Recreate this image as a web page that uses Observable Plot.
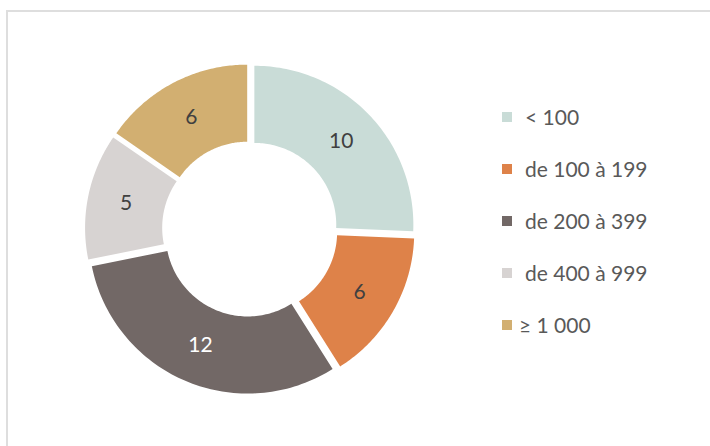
<!DOCTYPE html>
<html>
<head>
<meta charset="utf-8">
<script src="https://cdn.jsdelivr.net/npm/d3@7"></script>
<script src="https://cdn.jsdelivr.net/npm/@observablehq/plot@0.6"></script>
<style>
  html, body { margin: 0; padding: 0; background: #fff; }
  #wrap { position: relative; width: 710px; height: 446px; overflow: hidden; font-family: Lato, "Open Sans", sans-serif; }
  #frame { position: absolute; left: 6px; top: 10px; right: -10px; bottom: -10px; border-top: 2px solid #dedede; border-left: 2px solid #dedede; }
  #chart { position: absolute; left: 0; top: 0; }
  #legend { position: absolute; left: 502px; top: 0; }
  .item { position: absolute; left: 0; white-space: nowrap; font-size: 21px; color: #595959; line-height: 24px; }
  .sw { position: absolute; left: 0; top: 7px; width: 10px; height: 10px; }
  .lab { position: absolute; left: 23px; top: 0; }
</style>
</head>
<body>
<div id="wrap">
  <div id="frame"></div>
  <div id="chart"></div>
  <div id="legend"></div>
</div>
<script>
const categories = ["< 100", "de 100 à 199", "de 200 à 399", "de 400 à 999", "≥ 1 000"];
const values = [10, 6, 12, 5, 6];
const colors = ["#c9dcd7", "#de8249", "#726866", "#d7d3d2", "#d2af71"];
const labelColors = ["#404040", "#404040", "#ffffff", "#404040", "#404040"];

const cx = 249.5, cy = 228.5, R = 159;
const inner = 0.515, explode = 0.038;

const arcs = d3.pie().sort(null).value(d => d)(values);
const slices = arcs.map((a, i) => ({
  cat: categories[i], value: values[i], a0: a.startAngle, a1: a.endAngle,
  mid: (a.startAngle + a.endAngle) / 2, labelColor: labelColors[i]
}));

const pts = [];
for (const s of slices) {
  const ox = explode * Math.sin(s.mid), oy = explode * Math.cos(s.mid);
  const n = 80;
  for (let k = 0; k <= n; k++) {
    const a = s.a0 + (s.a1 - s.a0) * k / n;
    pts.push({cat: s.cat, x: ox + Math.sin(a), y: oy + Math.cos(a)});
  }
  for (let k = n; k >= 0; k--) {
    const a = s.a0 + (s.a1 - s.a0) * k / n;
    pts.push({cat: s.cat, x: ox + inner * Math.sin(a), y: oy + inner * Math.cos(a)});
  }
}
const lr = (1 + inner) / 2 + explode;
const labels = slices.map(s => ({...s, x: lr * Math.sin(s.mid), y: lr * Math.cos(s.mid)}));

const chart = Plot.plot({
  width: 710, height: 446, margin: 0,
  style: {background: "transparent", fontFamily: "Lato, 'Open Sans', sans-serif"},
  x: {domain: [-1, 1], range: [cx - R, cx + R], axis: null},
  y: {domain: [-1, 1], range: [cy + R, cy - R], axis: null},
  color: {domain: categories, range: colors},
  marks: [
    Plot.line(pts, {x: "x", y: "y", z: "cat", fill: "cat", stroke: null, curve: "linear"}),
    Plot.text(labels.filter(d => d.labelColor !== "#ffffff"), {x: "x", y: "y", text: d => String(d.value), fill: "#404040", fontSize: 21}),
    Plot.text(labels.filter(d => d.labelColor === "#ffffff"), {x: "x", y: "y", text: d => String(d.value), fill: "#ffffff", fontSize: 21})
  ]
});
document.getElementById("chart").appendChild(chart);

const legend = document.getElementById("legend");
const rowTop = 104.5, rowGap = 52.2;
categories.forEach((c, i) => {
  const item = document.createElement("div");
  item.className = "item";
  item.style.top = (rowTop + i * rowGap) + "px";
  const sw = document.createElement("div");
  sw.className = "sw";
  sw.style.background = colors[i];
  const lab = document.createElement("span");
  lab.className = "lab";
  if (c.startsWith("≥")) lab.style.left = "17px";
  lab.textContent = c;
  item.appendChild(sw); item.appendChild(lab);
  legend.appendChild(item);
});
</script>
</body>
</html>
